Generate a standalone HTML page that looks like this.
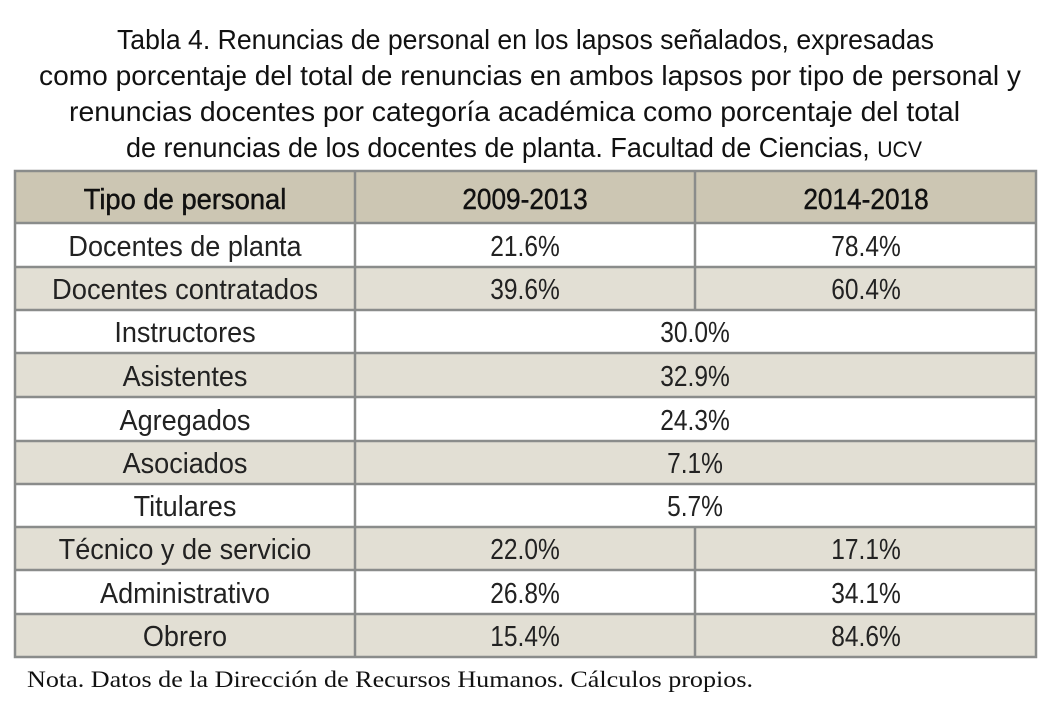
<!DOCTYPE html>
<html>
<head>
<meta charset="utf-8">
<style>
  html,body{margin:0;padding:0;background:#fff;}
  svg{display:block;}
  .t{font-family:"Liberation Sans",sans-serif;font-size:28px;fill:#111;}
  .c{font-family:"Liberation Sans",sans-serif;font-size:28.5px;fill:#222;text-anchor:middle;}
  .h{font-family:"Liberation Sans",sans-serif;font-size:28.5px;fill:#111;text-anchor:middle;stroke:#111;stroke-width:0.45;}
  .n{font-family:"Liberation Serif",serif;font-size:23px;fill:#111;}
</style>
</head>
<body>
<svg width="1050" height="712" viewBox="0 0 1050 712" xmlns="http://www.w3.org/2000/svg">
  <rect x="0" y="0" width="1050" height="712" fill="#ffffff"/>

  <!-- Title -->
  <text class="t" x="117" y="49" textLength="817" lengthAdjust="spacingAndGlyphs">Tabla 4. Renuncias de personal en los lapsos señalados, expresadas</text>
  <text class="t" x="39" y="85" textLength="982" lengthAdjust="spacingAndGlyphs">como porcentaje del total de renuncias en ambos lapsos por tipo de personal y</text>
  <text class="t" x="69" y="121" textLength="891" lengthAdjust="spacingAndGlyphs">renuncias docentes por categoría académica como porcentaje del total</text>
  <text class="t" x="126" y="157" textLength="796" lengthAdjust="spacingAndGlyphs">de renuncias de los docentes de planta. Facultad de Ciencias, <tspan font-size="22">UCV</tspan></text>

  <!-- Row fills -->
  <rect x="15" y="171" width="1021" height="52" fill="#ccc6b3"/>
  <rect x="15" y="223" width="1021" height="44" fill="#ffffff"/>
  <rect x="15" y="267" width="1021" height="43" fill="#e2dfd4"/>
  <rect x="15" y="310" width="1021" height="43" fill="#ffffff"/>
  <rect x="15" y="353" width="1021" height="44" fill="#e2dfd4"/>
  <rect x="15" y="397" width="1021" height="44" fill="#ffffff"/>
  <rect x="15" y="441" width="1021" height="43" fill="#e2dfd4"/>
  <rect x="15" y="484" width="1021" height="43" fill="#ffffff"/>
  <rect x="15" y="527" width="1021" height="43" fill="#e2dfd4"/>
  <rect x="15" y="570" width="1021" height="44" fill="#ffffff"/>
  <rect x="15" y="614" width="1021" height="43" fill="#e2dfd4"/>

  <!-- Grid lines -->
  <g stroke="#8a8c8b" stroke-width="2.5" fill="none">
    <rect x="15" y="171" width="1021" height="486"/>
    <line x1="15" y1="223" x2="1036" y2="223"/>
    <line x1="15" y1="267" x2="1036" y2="267"/>
    <line x1="15" y1="310" x2="1036" y2="310"/>
    <line x1="15" y1="353" x2="1036" y2="353"/>
    <line x1="15" y1="397" x2="1036" y2="397"/>
    <line x1="15" y1="441" x2="1036" y2="441"/>
    <line x1="15" y1="484" x2="1036" y2="484"/>
    <line x1="15" y1="527" x2="1036" y2="527"/>
    <line x1="15" y1="570" x2="1036" y2="570"/>
    <line x1="15" y1="614" x2="1036" y2="614"/>
    <line x1="355" y1="171" x2="355" y2="657"/>
    <line x1="695" y1="171" x2="695" y2="310"/>
    <line x1="695" y1="527" x2="695" y2="657"/>
  </g>

  <!-- Header -->
  <text class="h" transform="translate(185 209) scale(0.96 1)">Tipo de personal</text>
  <text class="h" transform="translate(525 209) scale(0.92 1)">2009-2013</text>
  <text class="h" transform="translate(866 209) scale(0.92 1)">2014-2018</text>

  <!-- Body -->
  <g>
    <text class="c" transform="translate(185 256) scale(0.95 1)">Docentes de planta</text>
    <text class="c" transform="translate(525 256) scale(0.86 1)">21.6%</text>
    <text class="c" transform="translate(866 256) scale(0.86 1)">78.4%</text>

    <text class="c" transform="translate(185 299) scale(0.96 1)">Docentes contratados</text>
    <text class="c" transform="translate(525 299) scale(0.86 1)">39.6%</text>
    <text class="c" transform="translate(866 299) scale(0.86 1)">60.4%</text>

    <text class="c" transform="translate(185 342) scale(0.95 1)">Instructores</text>
    <text class="c" transform="translate(695 342) scale(0.86 1)">30.0%</text>

    <text class="c" transform="translate(185 386) scale(0.95 1)">Asistentes</text>
    <text class="c" transform="translate(695 386) scale(0.86 1)">32.9%</text>

    <text class="c" transform="translate(185 430) scale(0.95 1)">Agregados</text>
    <text class="c" transform="translate(695 430) scale(0.86 1)">24.3%</text>

    <text class="c" transform="translate(185 473) scale(0.95 1)">Asociados</text>
    <text class="c" transform="translate(695 473) scale(0.86 1)">7.1%</text>

    <text class="c" transform="translate(185 516) scale(0.95 1)">Titulares</text>
    <text class="c" transform="translate(695 516) scale(0.86 1)">5.7%</text>

    <text class="c" transform="translate(185 559) scale(0.95 1)">Técnico y de servicio</text>
    <text class="c" transform="translate(525 559) scale(0.86 1)">22.0%</text>
    <text class="c" transform="translate(866 559) scale(0.86 1)">17.1%</text>

    <text class="c" transform="translate(185 603) scale(0.95 1)">Administrativo</text>
    <text class="c" transform="translate(525 603) scale(0.86 1)">26.8%</text>
    <text class="c" transform="translate(866 603) scale(0.86 1)">34.1%</text>

    <text class="c" transform="translate(185 646) scale(0.95 1)">Obrero</text>
    <text class="c" transform="translate(525 646) scale(0.86 1)">15.4%</text>
    <text class="c" transform="translate(866 646) scale(0.86 1)">84.6%</text>
  </g>

  <!-- Note -->
  <text class="n" x="27" y="687" textLength="726" lengthAdjust="spacingAndGlyphs">Nota. Datos de la Dirección de Recursos Humanos. Cálculos propios.</text>
</svg>
</body>
</html>
